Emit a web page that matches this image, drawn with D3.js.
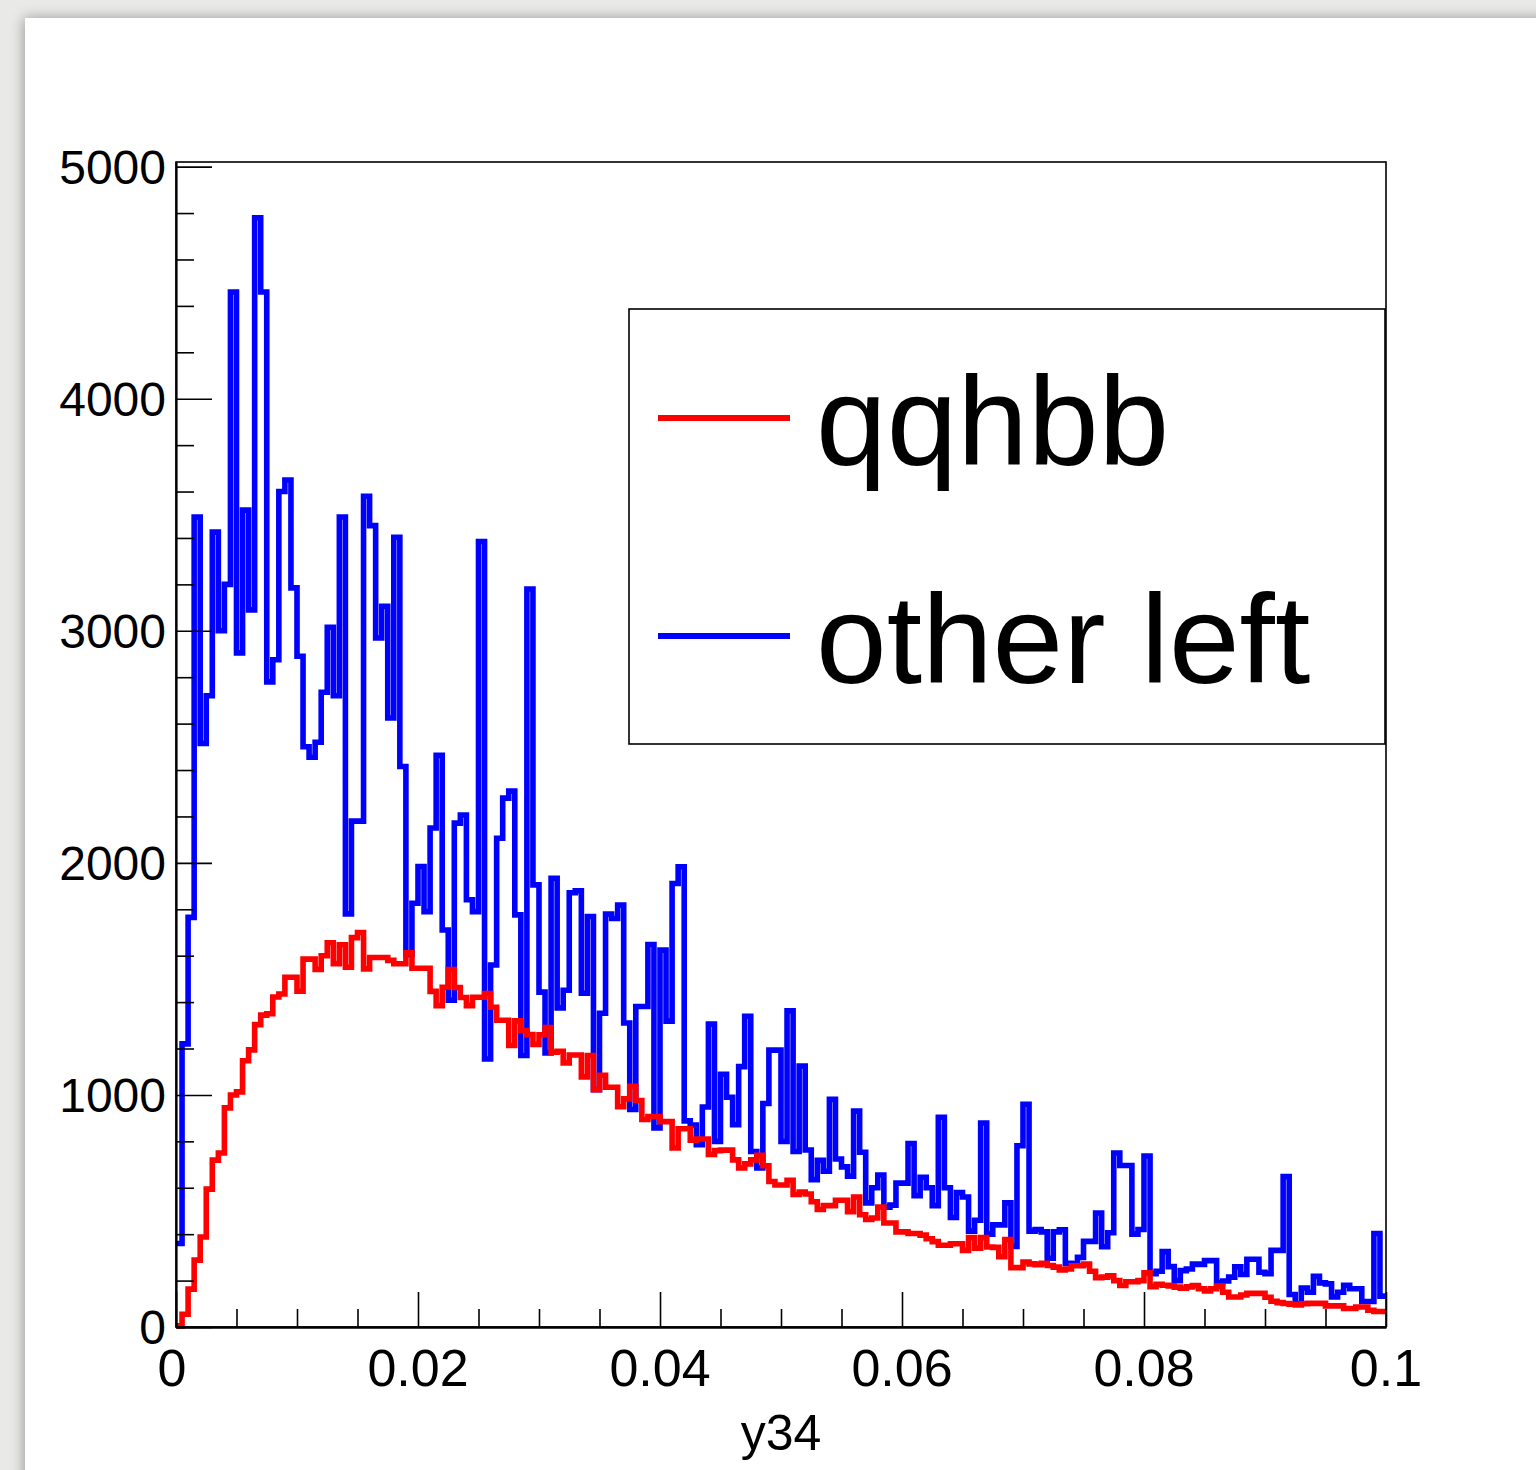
<!DOCTYPE html>
<html>
<head>
<meta charset="utf-8">
<script src="https://cdn.jsdelivr.net/npm/d3@7/dist/d3.min.js"></script>
<style>
  html, body { margin: 0; padding: 0; background: #e9e9e7; }
  svg { display: block; }
</style>
</head>
<body>
<svg id="chart" width="1536" height="1470"></svg>
<script>
// Histogram binning: 200 bins on y34 in [0, 0.1]
const binLow = 0;
const binHigh = 0.1;
const nBins = 200;

// Bin contents, sample "qqhbb"
const qqhbbCounts = [
  5, 55, 163, 288, 388, 594, 719, 750, 944, 1000, 1013, 1147, 1194, 1303, 1344, 1350, 1422, 1435, 1507, 1507,
  1447, 1585, 1585, 1541, 1600, 1656, 1566, 1647, 1550, 1678, 1700, 1543, 1592, 1592, 1592, 1580, 1565, 1565, 1612, 1546,
  1546, 1546, 1446, 1385, 1464, 1540, 1463, 1420, 1385, 1421, 1421, 1437, 1378, 1322, 1322, 1213, 1319, 1277, 1260, 1217,
  1259, 1290, 1184, 1188, 1138, 1172, 1172, 1078, 1170, 1023, 1085, 1033, 1033, 949, 983, 1037, 976, 894, 907, 907,
  885, 885, 772, 854, 854, 805, 810, 810, 743, 760, 762, 762, 720, 685, 703, 720, 740, 695, 627, 612,
  612, 632, 571, 581, 573, 540, 506, 523, 523, 546, 546, 497, 560, 484, 463, 470, 517, 448, 448, 410,
  410, 403, 403, 396, 380, 368, 352, 352, 359, 359, 330, 385, 340, 385, 345, 343, 303, 377, 256, 256,
  280, 272, 268, 274, 265, 258, 246, 250, 264, 264, 271, 240, 212, 215, 221, 200, 179, 195, 195, 200,
  234, 174, 184, 180, 177, 172, 167, 173, 179, 165, 155, 165, 176, 150, 129, 129, 138, 145, 145, 145,
  128, 111, 105, 101, 98, 95, 100, 102, 102, 102, 91, 91, 91, 80, 80, 86, 86, 72, 67, 67
];

// Bin contents, sample "other left"
const otherLeftCounts = [
  360, 1220, 1765, 3490, 2515, 2720, 3425, 3000, 3200, 4460, 2905, 3520, 3090, 4780, 4460, 2780, 2875, 3600, 3650, 3185,
  2890, 2500, 2455, 2520, 2735, 3015, 2720, 3490, 1780, 2180, 2180, 3580, 3453, 2969, 3105, 2624, 3403, 2415, 1604, 1826,
  1984, 1790, 2150, 2463, 1711, 1408, 2171, 2206, 1841, 1790, 3385, 1155, 1560, 2106, 2279, 2309, 1776, 1170, 3180, 1905,
  1443, 1181, 1933, 1375, 1451, 1871, 1880, 1438, 1769, 1023, 1352, 1779, 1760, 1818, 1310, 937, 1381, 1381, 1648, 858,
  1624, 1318, 1911, 1983, 888, 870, 786, 948, 1305, 800, 1089, 990, 872, 1122, 1339, 756, 685, 963, 1193, 1193,
  800, 1362, 756, 1124, 763, 635, 718, 671, 981, 724, 690, 650, 930, 753, 535, 600, 655, 516, 525, 620,
  620, 791, 566, 645, 600, 523, 904, 600, 472, 579, 560, 413, 460, 879, 400, 440, 440, 535, 347, 781,
  960, 413, 420, 410, 296, 410, 419, 274, 272, 300, 369, 369, 491, 346, 406, 750, 696, 696, 400, 420,
  737, 230, 240, 325, 260, 200, 243, 250, 271, 270, 286, 286, 190, 198, 215, 259, 226, 292, 292, 236,
  230, 330, 330, 648, 140, 100, 168, 150, 218, 190, 186, 130, 150, 180, 165, 165, 110, 110, 403, 133
];

// Axis ticks and labels
const xMajorTicks = [0, 0.02, 0.04, 0.06, 0.08, 0.1];
const xTickLabels = ["0", "0.02", "0.04", "0.06", "0.08", "0.1"];
const yMajorTicks = [0, 1000, 2000, 3000, 4000, 5000];
const yTickLabels = ["0", "1000", "2000", "3000", "4000", "5000"];
const xTitle = "y34";

// Legend entries
const legendLabels = ["qqhbb", "other left"];
const legendColors = ["#ff0000", "#0000ff"];

const svg = d3.select("#chart");
const W = 1536, H = 1470;

// page with soft shadow on the canvas edge
const defs = svg.append("defs");
const sh = defs.append("filter").attr("id", "pageShadow")
  .attr("x", "-5%").attr("y", "-5%").attr("width", "110%").attr("height", "110%");
sh.append("feGaussianBlur").attr("in", "SourceAlpha").attr("stdDeviation", 7).attr("result", "b");
sh.append("feOffset").attr("in", "b").attr("dx", -1).attr("dy", 0).attr("result", "o");
sh.append("feComponentTransfer").attr("in", "o").attr("result", "s")
  .append("feFuncA").attr("type", "linear").attr("slope", 0.35);
const mg = sh.append("feMerge");
mg.append("feMergeNode").attr("in", "s");
mg.append("feMergeNode").attr("in", "SourceGraphic");

svg.append("rect").attr("width", W).attr("height", H).attr("fill", "#e9e9e7");
svg.append("rect").attr("x", 25).attr("y", 18).attr("width", W).attr("height", H)
  .attr("fill", "#ffffff").attr("filter", "url(#pageShadow)");

// frame geometry
const frame = { left: 176, right: 1386, top: 162, bottom: 1327 };

const x = d3.scaleLinear().domain([binLow, binHigh]).range([frame.left, frame.right]);
const y = d3.scaleLinear().domain([0, 5020]).range([frame.bottom, frame.top]);

const binWidth = (binHigh - binLow) / nBins;
function stepPoints(counts) {
  const pts = counts.map((c, i) => [binLow + i * binWidth, c]);
  pts.push([binHigh, counts[counts.length - 1]]);
  return pts;
}
const stepLine = d3.line()
  .x(d => x(d[0]))
  .y(d => y(d[1]))
  .curve(d3.curveStepAfter);

const font = "'Liberation Sans', Arial, Helvetica, sans-serif";

// histograms
svg.append("path")
  .attr("d", stepLine(stepPoints(otherLeftCounts)))
  .attr("fill", "none").attr("stroke", legendColors[1]).attr("stroke-width", 5.6)
  .attr("stroke-linejoin", "miter").attr("stroke-linecap", "butt");
svg.append("path")
  .attr("d", stepLine(stepPoints(qqhbbCounts)))
  .attr("fill", "none").attr("stroke", legendColors[0]).attr("stroke-width", 5.6)
  .attr("stroke-linejoin", "miter").attr("stroke-linecap", "butt");

// frame
svg.append("rect")
  .attr("x", frame.left).attr("y", frame.top)
  .attr("width", frame.right - frame.left).attr("height", frame.bottom - frame.top)
  .attr("fill", "none").attr("stroke", "#000").attr("stroke-width", 1.6);

// y axis (ticks pointing into the frame)
const yAxis = d3.axisRight(y)
  .tickValues(d3.range(0, 5001, 200))
  .tickSize(0).tickFormat("");
const gy = svg.append("g").attr("transform", `translate(${frame.left},0)`).call(yAxis);
gy.select(".domain").attr("stroke", "#000").attr("stroke-width", 2.2);
gy.selectAll(".tick line")
  .attr("x2", d => (d % 1000 === 0 ? 36 : 18))
  .attr("stroke", "#000").attr("stroke-width", 1.6);
svg.append("g").selectAll("text").data(yMajorTicks).join("text")
  .attr("x", 166).attr("y", d => y(d) + 17)
  .attr("text-anchor", "end")
  .attr("font-family", font).attr("font-size", 48).attr("fill", "#000")
  .text((d, i) => yTickLabels[i]);

// x axis (ticks pointing up into the frame)
const xAxis = d3.axisTop(x)
  .tickValues(d3.range(0, 21).map(i => i * 0.005))
  .tickSize(0).tickFormat("");
const gx = svg.append("g").attr("transform", `translate(0,${frame.bottom})`).call(xAxis);
gx.select(".domain").attr("stroke", "#000").attr("stroke-width", 2.6);
gx.selectAll(".tick line")
  .attr("y2", (d, i) => (i % 4 === 0 ? -35 : -18))
  .attr("stroke", "#000").attr("stroke-width", 1.6);
svg.append("g").selectAll("text").data(xMajorTicks).join("text")
  .attr("x", (d, i) => x(d) + (i === 0 ? -4 : 0)).attr("y", 1386)
  .attr("text-anchor", "middle")
  .attr("font-family", font).attr("font-size", 52).attr("fill", "#000")
  .text((d, i) => xTickLabels[i]);

// axis title
svg.append("text")
  .attr("x", (frame.left + frame.right) / 2).attr("y", 1450)
  .attr("text-anchor", "middle")
  .attr("font-family", font).attr("font-size", 50).attr("fill", "#000")
  .text(xTitle);

// legend
const leg = { x0: 629, y0: 309, x1: 1385, y1: 744 };
svg.append("rect")
  .attr("x", leg.x0).attr("y", leg.y0)
  .attr("width", leg.x1 - leg.x0).attr("height", leg.y1 - leg.y0)
  .attr("fill", "#fff").attr("stroke", "#000").attr("stroke-width", 1.6);
const rowY = [418, 636];
const baseY = [465, 683];
legendLabels.forEach((lab, i) => {
  svg.append("line")
    .attr("x1", 658).attr("x2", 790).attr("y1", rowY[i]).attr("y2", rowY[i])
    .attr("stroke", legendColors[i]).attr("stroke-width", 6);
  svg.append("text")
    .attr("x", 816).attr("y", baseY[i])
    .attr("font-family", font).attr("font-size", 127).attr("fill", "#000")
    .text(lab);
});
</script>
</body>
</html>
